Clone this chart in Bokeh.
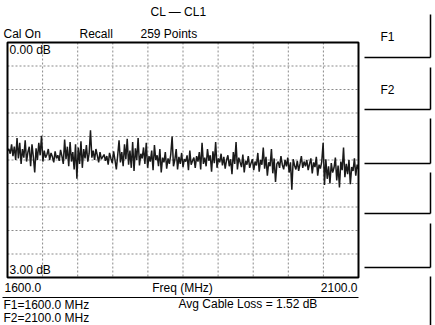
from bokeh.plotting import figure
from bokeh.models import Range1d, Label
from bokeh.embed import file_html
from bokeh.resources import INLINE
import numpy as np

# ---------------- data ----------------
f_start, f_stop = 1600.0, 2100.0          # MHz
y_top_db, y_bottom_db = 0.0, 3.00          # dB (scale top / bottom)
x_ticks = [1600, 1650, 1700, 1750, 1800, 1850, 1900, 1950, 2000, 2050, 2100]
y_ticks = [0.0, 0.3, 0.6, 0.9, 1.2, 1.5, 1.8, 2.1, 2.4, 2.7, 3.0]

cable_loss_db = [
    1.38, 1.36, 1.42, 1.30, 1.45, 1.33, 1.50, 1.22, 1.48, 1.28, 1.55, 1.36, 1.47, 1.25, 1.52, 1.40, 1.33, 1.58, 1.30, 1.46,
    1.66, 1.35, 1.50, 1.28, 1.44, 1.19, 1.52, 1.38, 1.47, 1.43, 1.36, 1.50, 1.41, 1.46, 1.53, 1.39, 1.48, 1.44, 1.51, 1.37,
    1.45, 1.55, 1.24, 1.49, 1.33, 1.58, 1.27, 1.52, 1.40, 1.62, 1.30, 1.74, 1.34, 1.55, 1.26, 1.60, 1.36, 1.48, 1.31, 1.52,
    1.42, 1.12, 1.47, 1.38, 1.50, 1.36, 1.44, 1.53, 1.40, 1.49, 1.46, 1.43, 1.51, 1.45, 1.56, 1.41, 1.48, 1.54, 1.39, 1.50,
    1.62, 1.44, 1.25, 1.53, 1.40, 1.58, 1.30, 1.49, 1.23, 1.56, 1.38, 1.60, 1.27, 1.64, 1.35, 1.50, 1.22, 1.57, 1.42, 1.48,
    1.34, 1.55, 1.28, 1.60, 1.45, 1.52, 1.38, 1.63, 1.31, 1.50, 1.44, 1.58, 1.36, 1.66, 1.47, 1.53, 1.40, 1.61, 1.48, 1.55,
    1.43, 1.20, 1.58, 1.50, 1.36, 1.62, 1.46, 1.55, 1.41, 1.59, 1.49, 1.52, 1.44, 1.63, 1.38, 1.56, 1.51, 1.47, 1.60, 1.45,
    1.52, 1.40, 1.62, 1.28, 1.55, 1.47, 1.58, 1.36, 1.51, 1.44, 1.65, 1.39, 1.54, 1.27, 1.60, 1.48, 1.53, 1.42, 1.57, 1.46,
    1.61, 1.50, 1.44, 1.58, 1.49, 1.68, 1.40, 1.55, 1.27, 1.62, 1.47, 1.53, 1.59, 1.43, 1.66, 1.51, 1.56, 1.45, 1.60, 1.54,
    1.49, 1.63, 1.52, 1.57, 1.41, 1.65, 1.50, 1.56, 1.34, 1.61, 1.46, 1.70, 1.53, 1.58, 1.36, 1.67, 1.48, 1.78, 1.55, 1.52,
    1.60, 1.45, 1.56, 1.62, 1.50, 1.58, 1.47, 1.66, 1.53, 1.88, 1.49, 1.57, 1.62, 1.51, 1.64, 1.55, 1.45, 1.60, 1.52, 1.58,
    1.50, 1.63, 1.55, 1.48, 1.67, 1.53, 1.59, 1.46, 1.70, 1.56, 1.61, 1.52, 1.28, 1.82, 1.49, 1.74, 1.58, 1.80, 1.54, 1.66,
    1.60, 1.47, 1.76, 1.57, 1.85, 1.52, 1.63, 1.34, 1.72, 1.55, 1.68, 1.50, 1.81, 1.59, 1.64, 1.48, 1.70, 1.56, 1.62,
]
freq_mhz = np.linspace(f_start, f_stop, len(cable_loss_db))

title_text = "CL \u2014 CL1"
status_texts = ["Cal On", "Recall", "259 Points"]
softkey_labels = ["F1", "F2", "", "", "", ""]
avg_loss_db = 1.52

# ---------------- layout constants (screen px) ----------------
W, H = 435, 325
FL, FR, FT, FB = 7, 358, 42, 277
FONT = "Liberation Sans"

sx = (f_stop - f_start) / (FR - FL)
sy = (y_bottom_db - y_top_db) / (FB - FT)
x0 = f_start - FL * sx
y0 = y_top_db - FT * sy

p = figure(width=W, height=H, title=None, toolbar_location=None, output_backend="svg",
           x_axis_type=None, y_axis_type=None, min_border=0,
           x_range=Range1d(x0, x0 + W * sx), y_range=Range1d(y0 + H * sy, y0))
p.outline_line_color = None
p.background_fill_color = "white"
p.border_fill_color = "white"
p.extra_x_ranges = {"px": Range1d(0, W)}
p.extra_y_ranges = {"px": Range1d(H, 0)}

# grid
p.segment(x0=x_ticks, y0=[y_top_db] * len(x_ticks), x1=x_ticks, y1=[y_bottom_db] * len(x_ticks),
          line_color="#8a8a8a", line_width=1, line_dash="2 2")
p.segment(x0=[f_start] * len(y_ticks), y0=y_ticks, x1=[f_stop] * len(y_ticks), y1=y_ticks,
          line_color="#8a8a8a", line_width=1, line_dash="2 2")

# trace
p.line(freq_mhz, cable_loss_db, line_color="#1a1a1a", line_width=1.5)

# frame
p.quad(left=[f_start], right=[f_stop], top=[y_top_db], bottom=[y_bottom_db],
       fill_color=None, line_color="black", line_width=2)

def lab(text, x, y, align="left", size="12px", weight="normal"):
    p.add_layout(Label(x=x, y=y, text=text, x_range_name="px", y_range_name="px",
                       text_font=FONT, text_font_size=size, text_align=align,
                       text_baseline="middle", text_color="black", text_font_style=weight))

lab(title_text, 178, 11, align="center")
for t, xx in zip(status_texts, [3, 79, 140]):
    lab(t, xx, 33)
lab(f"{y_top_db:.2f} dB", 9, 49)
lab(f"{y_bottom_db:.2f} dB", 9, 269)
lab(f"{f_start:.1f}", 4, 287)
lab("Freq (MHz)", 182, 287, align="center")
lab(f"{f_stop:.1f}", 357, 287, align="right")
lab(f"F1={f_start:.1f} MHz", 3, 304)
lab(f"F2={f_stop:.1f} MHz", 3, 317)
lab(f"Avg Cable Loss = {avg_loss_db:.2f} dB", 178, 303)

# separator line under axis labels
p.segment(x0=[2], y0=[297], x1=[358], y1=[297], x_range_name="px", y_range_name="px",
          line_color="black", line_width=1)

# softkey boxes
tops = [14, 67, 118, 172, 223, 276]
bots = [57, 109, 163, 213, 267, 326]
p.segment(x0=[430] * 6, y0=tops, x1=[430] * 6, y1=bots, x_range_name="px", y_range_name="px",
          line_color="black", line_width=1.5)
p.segment(x0=[364] * 5, y0=bots[:5], x1=[430] * 5, y1=bots[:5], x_range_name="px", y_range_name="px",
          line_color="black", line_width=1.5)
for t, tp, bt in zip(softkey_labels, tops, bots):
    if t:
        lab(t, 387, (tp + bt) / 2 + 1, align="center")

open("out.html", "w").write(file_html(p, INLINE))
